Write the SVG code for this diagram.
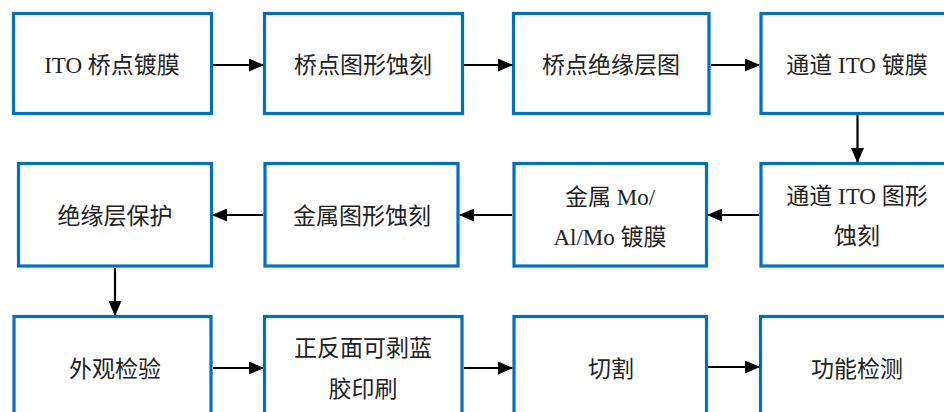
<svg xmlns="http://www.w3.org/2000/svg" width="944" height="412" viewBox="0 0 944 412">
<defs>
<marker id="ah" markerUnits="userSpaceOnUse" markerWidth="15" markerHeight="13" refX="14" refY="6.5" orient="auto">
<path d="M0,0 L15,6.5 L0,13 z" fill="#000"/>
</marker>
<style>
.box{fill:#fff;stroke:#0070C0;stroke-width:3.2}
.t{font-family:"Liberation Serif","Noto Sans CJK SC",serif;font-size:23px;fill:#222;text-anchor:middle;dominant-baseline:central}
.c{stroke:#000;stroke-width:2.2;fill:none;marker-end:url(#ah)}
</style>
</defs>
<rect width="944" height="412" fill="#fff"/>
<g id="n1"><rect class="box" x="13.5" y="13.5" width="198" height="100"/><text class="t" x="112" y="65">ITO 桥点镀膜</text></g>
<g id="n2"><rect class="box" x="264.5" y="13.5" width="198" height="100"/><text class="t" x="363" y="65">桥点图形蚀刻</text></g>
<g id="n3"><rect class="box" x="513.5" y="13.5" width="195.5" height="100"/><text class="t" x="611" y="65">桥点绝缘层图</text></g>
<g id="n4"><rect class="box" x="761" y="13.5" width="200" height="100"/><text class="t" x="857" y="65">通道 ITO 镀膜</text></g>
<g id="n5"><rect class="box" x="761" y="163.5" width="200" height="102.5"/><text class="t" x="857" y="196">通道 ITO 图形</text><text class="t" x="857" y="236">蚀刻</text></g>
<g id="n6"><rect class="box" x="514" y="163.5" width="192.5" height="102.5"/><text class="t" x="610" y="197">金属 Mo/</text><text class="t" x="610" y="237">Al/Mo 镀膜</text></g>
<g id="n7"><rect class="box" x="265" y="163.5" width="193" height="102.5"/><text class="t" x="362" y="216">金属图形蚀刻</text></g>
<g id="n8"><rect class="box" x="18.5" y="163.5" width="193" height="102.5"/><text class="t" x="115" y="216">绝缘层保护</text></g>
<g id="n9"><rect class="box" x="14" y="316.5" width="197" height="100"/><text class="t" x="115" y="369">外观检验</text></g>
<g id="n10"><rect class="box" x="264.5" y="316.5" width="197.5" height="100"/><text class="t" x="363" y="348">正反面可剥蓝</text><text class="t" x="363" y="389">胶印刷</text></g>
<g id="n11"><rect class="box" x="514" y="316.5" width="192.5" height="100"/><text class="t" x="611" y="369">切割</text></g>
<g id="n12"><rect class="box" x="760.5" y="316.5" width="200" height="100"/><text class="t" x="857" y="369">功能检测</text></g>
<g id="connectors">
<line class="c" x1="213" y1="65" x2="263" y2="65"/>
<line class="c" x1="464" y1="65" x2="512" y2="65"/>
<line class="c" x1="711" y1="65" x2="759" y2="65"/>
<line class="c" x1="857.5" y1="115" x2="857.5" y2="162"/>
<line class="c" x1="759" y1="215" x2="708" y2="215"/>
<line class="c" x1="512" y1="215" x2="460" y2="215"/>
<line class="c" x1="263" y1="215" x2="213" y2="215"/>
<line class="c" x1="115" y1="268" x2="115" y2="315"/>
<line class="c" x1="213" y1="368" x2="263" y2="368"/>
<line class="c" x1="464" y1="368" x2="512" y2="368"/>
<line class="c" x1="708" y1="367" x2="759" y2="367"/>
</g>
</svg>
